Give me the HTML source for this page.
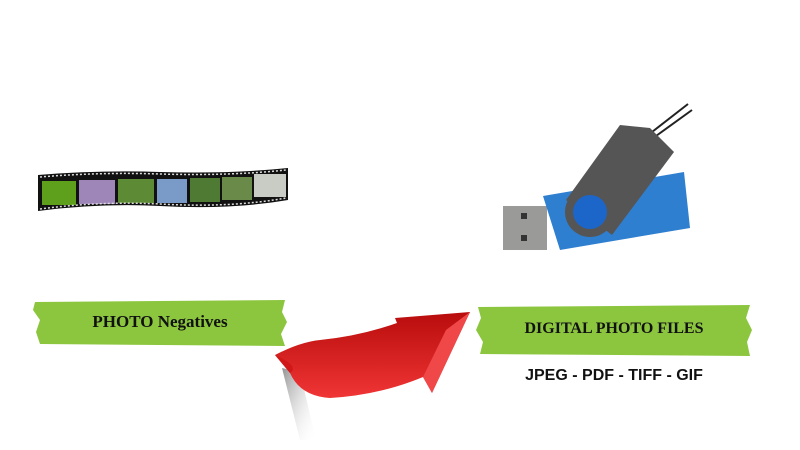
<!DOCTYPE html>
<html><head><meta charset="utf-8"><style>
body{margin:0;width:800px;height:450px;background:#fff;overflow:hidden;position:relative;font-family:"Liberation Serif",serif}
</style></head><body>
<svg width="800" height="450" style="position:absolute;left:0;top:0">
<defs>
<linearGradient id="ar" x1="0" y1="0" x2="0" y2="1"><stop offset="0" stop-color="#b80c0c"/><stop offset="1" stop-color="#f03535"/></linearGradient>
<linearGradient id="sh" x1="0" y1="0" x2="1" y2="1"><stop offset="0" stop-color="#777" stop-opacity=".8"/><stop offset="1" stop-color="#fff" stop-opacity="0"/></linearGradient>
</defs>
<!-- film strip -->
<path d="M38 175 Q100 170 160 172 Q230 174 288 168 L288 200 Q230 210 160 206 Q100 203 38 211 Z" fill="#111"/>
<g>
<rect x="42" y="181" width="34" height="24" fill="#5ea01c"/>
<rect x="79" y="180" width="36" height="24" fill="#9e86b8"/>
<rect x="118" y="179" width="36" height="24" fill="#5d8a34"/>
<rect x="157" y="179" width="30" height="24" fill="#7a9ac8"/>
<rect x="190" y="178" width="30" height="24" fill="#4f7a34"/>
<rect x="222" y="177" width="30" height="23" fill="#6a8a4a"/>
<rect x="254" y="174" width="32" height="23" fill="#c8ccc4"/>
</g>
<path d="M40 177 Q100 172 160 174 Q230 176 286 170" stroke="#ddd" stroke-width="1.5" stroke-dasharray="2 2" fill="none"/>
<path d="M40 209 Q100 201 160 204 Q230 208 286 198" stroke="#ddd" stroke-width="1.5" stroke-dasharray="2 2" fill="none"/>
<!-- green bands -->
<path d="M35 302 L285 300 L282 312 L287 322 L281 334 L285 346 L40 344 L36 332 L40 320 L33 310 Z" fill="#8cc63f"/>
<path d="M478 307 L750 305 L746 318 L752 330 L747 342 L750 356 L480 354 L483 342 L476 330 L481 318 Z" fill="#8cc63f"/>
<!-- arrow shadow -->
<path d="M282 368 L300 440 L316 440 L300 372 Z" fill="url(#sh)"/>
<!-- arrow -->
<path d="M275 355 Q300 342 320 340 Q360 336 397 323 L395 318 L470 312 L432 393 L423 377 Q380 395 330 398 Q300 396 290 373 Z" fill="url(#ar)"/>
<path d="M470 312 L432 393 L423 377 L446 330 Z" fill="#f04848"/>
<path d="M275 355 Q300 366 290 373" fill="#d01818"/>
<!-- USB -->
<rect x="503" y="206" width="44" height="44" fill="#9a9a98"/>
<rect x="521" y="213" width="6" height="6" fill="#333"/><rect x="521" y="235" width="6" height="6" fill="#333"/>
<polygon points="543,196 684,172 690,228 560,250" fill="#2f7fd0"/>
<path d="M652 132 L688 104 M656 136 L692 110" stroke="#222" stroke-width="2"/>
<polygon points="566,200 620,125 650,128 674,152 612,235" fill="#555"/>
<circle cx="590" cy="212" r="25" fill="#555"/>
<circle cx="590" cy="212" r="17" fill="#1d66c9"/>
</svg>
<div style="position:absolute;left:35px;top:312px;width:250px;text-align:center;font-weight:bold;font-size:17px;color:#111">PHOTO Negatives</div>
<div style="position:absolute;left:478px;top:320px;width:272px;text-align:center;font-weight:bold;font-size:16px;color:#111">DIGITAL PHOTO FILES</div>
<div style="position:absolute;left:478px;top:367px;width:272px;text-align:center;font-weight:bold;font-size:16px;color:#111;font-family:'Liberation Sans',sans-serif">JPEG - PDF - TIFF - GIF</div>
</body></html>
